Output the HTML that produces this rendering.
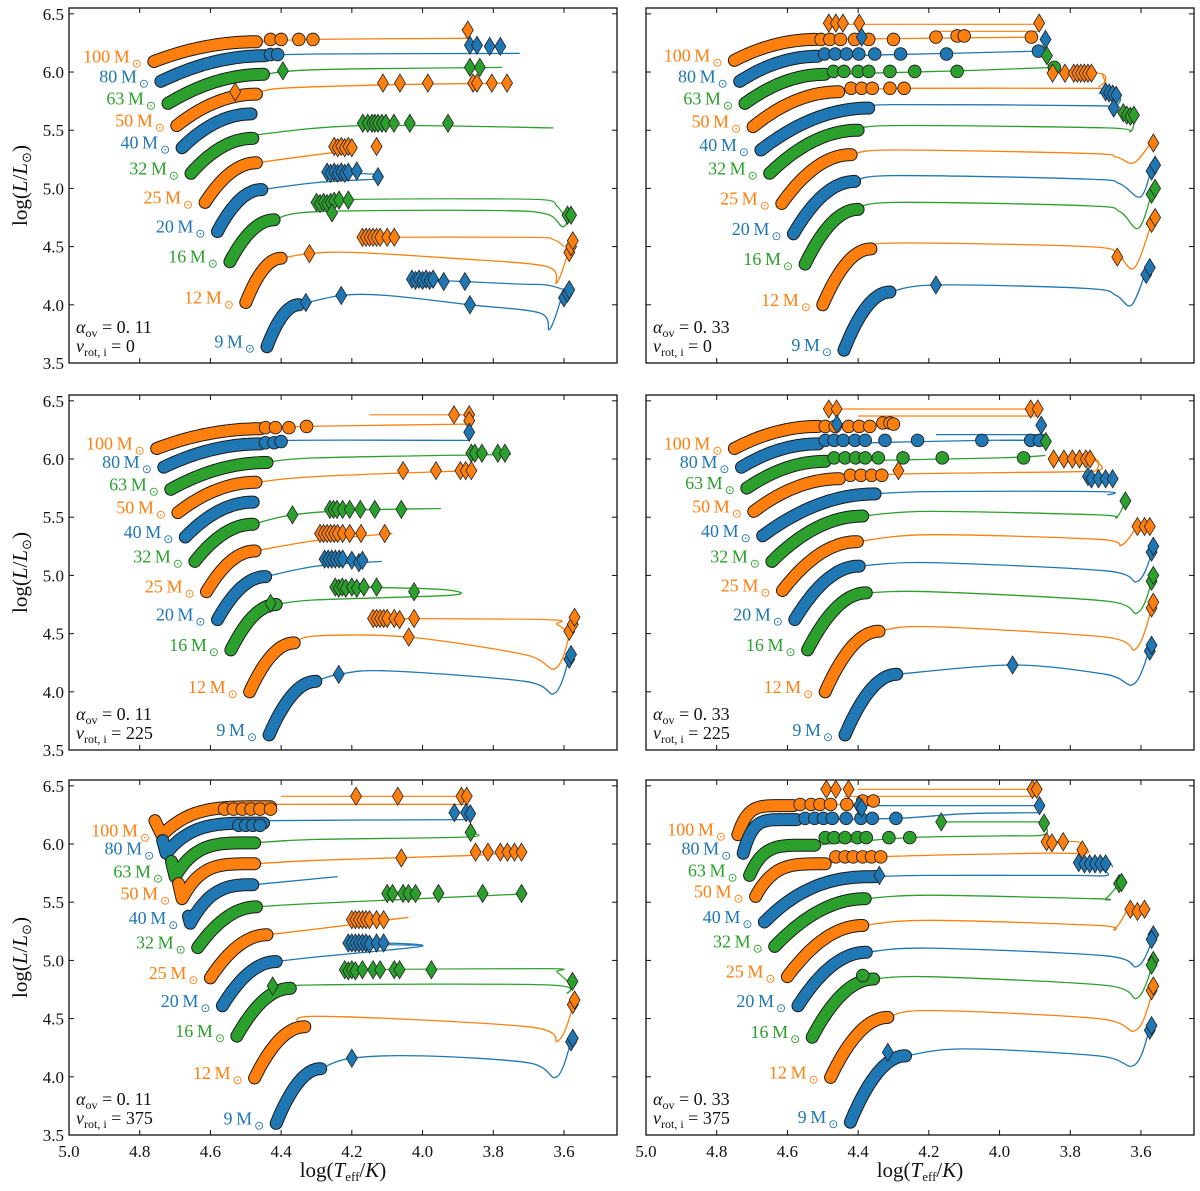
<!DOCTYPE html>
<html><head><meta charset="utf-8"><style>
html,body{margin:0;padding:0;background:#fff;}
svg{display:block;font-family:"Liberation Serif",serif;}
</style></head><body>
<svg id="fig" width="1200" height="1191" viewBox="0 0 1200 1191" xmlns="http://www.w3.org/2000/svg"></svg>
<script>
const masses=[100,80,63,50,40,32,25,20,16,12,9];
const colors=['#ff7f0e','#1f77b4','#2ca02c'];
const xTicks=[5.0,4.8,4.6,4.4,4.2,4.0,3.8,3.6];
const yTicks=[3.5,4.0,4.5,5.0,5.5,6.0,6.5];
const alphaVals=['0. 11','0. 33'];
const vrotVals=['0','225','375'];

// ---- top-left (a=0.11, v=0)
const tl_ms=[[4.76,6.09,4.47,6.26,2],[4.74,5.92,4.445,6.14,2],[4.72,5.73,4.45,5.98,2],[4.695,5.54,4.47,5.81,2],[4.68,5.35,4.485,5.64,2],[4.655,5.13,4.48,5.43,2],[4.615,4.88,4.47,5.22,2],[4.58,4.63,4.455,4.99,2],[4.545,4.37,4.42,4.73,2],[4.50,4.02,4.40,4.40,2],[4.44,3.64,4.35,4.0,2]];
const tl_post=[[[4.31,6.28],[3.875,6.29]],[[4.3,6.155],[3.725,6.16]],[[4.3,6.02],[3.775,6.04]],[[4.4,5.86],[4.1,5.89],[3.753,5.905]],[],[[4.47,5.46],[4.17,5.54],[3.63,5.52]],[[4.3,5.29],[4.186,5.33]],[[4.3,5.05],[4.126,5.08]],[[4.3,4.80],[3.8,4.81],[3.65,4.78],[3.603,4.67],[3.58,4.79]],[[4.32,4.44],[4.2,4.45],[3.92,4.40],[3.65,4.33],[3.62,4.19],[3.58,4.53]],[[4.23,4.08],[4.1,4.08],[3.866,4.0],[3.668,3.93],[3.64,3.79],[3.60,4.13]]];
const tl_branch=[[2,[[4.30,4.88],[4.2,4.905],[3.8,4.91],[3.65,4.9],[3.62,4.85],[3.6,4.77]]],[1,[[4.27,5.14],[4.12,5.12]]],[1,[[4.03,4.22],[3.74,4.18],[3.65,4.17],[3.6,4.13]]],[0,[[4.17,4.58],[3.7,4.58],[3.63,4.56],[3.6,4.5]]],[0,[[3.89,6.37],[3.86,6.37]]]];
const tl_dia=[[3.872,6.36,0],[3.866,6.23,1],[3.846,6.23,1],[3.81,6.22,1],[3.78,6.22,1],[4.395,6.01,2],[3.866,6.04,2],[3.838,6.04,2],[4.53,5.83,0],[4.112,5.905,0],[4.064,5.905,0],[3.985,5.905,0],[3.857,5.905,0],[3.846,5.905,0],[3.804,5.905,0],[3.761,5.905,0],[4.169,5.56,2],[4.155,5.56,2],[4.143,5.56,2],[4.135,5.56,2],[4.126,5.56,2],[4.115,5.56,2],[4.104,5.56,2],[4.081,5.56,2],[4.036,5.56,2],[3.928,5.56,2],[4.25,5.36,0],[4.24,5.35,0],[4.23,5.36,0],[4.22,5.35,0],[4.21,5.36,0],[4.20,5.35,0],[4.13,5.36,0],[4.27,5.14,1],[4.26,5.13,1],[4.25,5.14,1],[4.24,5.13,1],[4.23,5.14,1],[4.22,5.13,1],[4.21,5.14,1],[4.186,5.15,1],[4.126,5.1,1],[4.30,4.88,2],[4.29,4.87,2],[4.28,4.88,2],[4.27,4.87,2],[4.26,4.88,2],[4.25,4.89,2],[4.236,4.9,2],[4.21,4.9,2],[4.256,4.79,2],[3.59,4.77,2],[3.58,4.77,2],[4.17,4.58,0],[4.16,4.58,0],[4.15,4.58,0],[4.14,4.58,0],[4.13,4.58,0],[4.12,4.58,0],[4.10,4.58,0],[4.08,4.58,0],[4.32,4.44,0],[3.585,4.45,0],[3.58,4.5,0],[3.575,4.55,0],[4.03,4.22,1],[4.02,4.21,1],[4.01,4.22,1],[4.0,4.21,1],[3.99,4.22,1],[3.98,4.21,1],[3.97,4.22,1],[3.94,4.2,1],[3.88,4.2,1],[4.23,4.08,1],[3.866,4.0,1],[3.6,4.06,1],[3.59,4.1,1],[3.585,4.13,1],[4.33,4.02,1]];
const tl_circ=[[4.43,6.28,0],[4.40,6.28,0],[4.35,6.28,0],[4.31,6.28,0],[4.43,6.15,1],[4.41,6.15,1]];

// ---- top-right (a=0.33, v=0)
const tr_ms=[[4.75,6.10,4.52,6.28,2],[4.735,5.92,4.515,6.135,2],[4.72,5.73,4.495,5.98,2],[4.697,5.53,4.455,5.83,2],[4.675,5.33,4.37,5.69,2],[4.65,5.13,4.40,5.50,2],[4.616,4.87,4.42,5.29,2],[4.583,4.61,4.41,5.06,2],[4.55,4.35,4.40,4.82,2],[4.50,4.0,4.364,4.48,2],[4.44,3.61,4.31,4.11,2]];
const tr_post=[[[3.89,6.30]],[[4.15,6.16],[3.888,6.18]],[[4.12,6.01],[3.845,6.04]],[[4.27,5.86],[3.72,5.86],[3.70,5.88],[3.71,5.99]],[[4.3,5.72],[3.72,5.71],[3.677,5.69]],[[4.3,5.54],[3.70,5.52],[3.63,5.49],[3.62,5.62]],[[4.3,5.33],[3.75,5.30],[3.67,5.27],[3.62,5.22],[3.57,5.40]],[[4.3,5.11],[3.75,5.08],[3.66,5.04],[3.60,4.93],[3.565,5.24]],[[4.3,4.88],[3.75,4.85],[3.66,4.80],[3.606,4.66],[3.565,5.01]],[[4.3,4.53],[3.75,4.50],[3.667,4.43],[3.618,4.32],[3.565,4.75]],[[4.18,4.17],[3.75,4.14],[3.67,4.08],[3.626,4.0],[3.58,4.34]]];
const tr_branch=[[0,[[4.44,6.41],[3.888,6.41]]],[0,[[4.18,6.35],[3.89,6.35]]],[1,[[3.72,5.82],[3.66,5.78],[3.67,5.70]]],[0,[[3.85,5.99],[3.72,5.99],[3.70,5.93],[3.72,5.87]]]];
const tr_dia=[[4.483,6.42,0],[4.463,6.42,0],[4.443,6.42,0],[4.397,6.42,0],[3.888,6.42,0],[4.39,6.30,1],[3.87,6.28,1],[3.866,6.14,2],[3.85,5.99,0],[3.815,5.99,0],[3.79,5.99,0],[3.78,5.99,0],[3.77,5.99,0],[3.76,5.99,0],[3.75,5.99,0],[3.74,5.99,0],[3.70,5.83,1],[3.69,5.82,1],[3.68,5.81,1],[3.67,5.80,1],[3.677,5.69,1],[3.65,5.65,2],[3.64,5.63,2],[3.63,5.62,2],[3.62,5.63,2],[3.565,5.39,0],[3.57,5.15,1],[3.56,5.2,1],[3.57,4.95,2],[3.56,5.0,2],[3.667,4.41,0],[3.57,4.7,0],[3.56,4.75,0],[4.18,4.17,1],[3.585,4.26,1],[3.575,4.32,1]];
const tr_circ=[[4.505,6.28,0],[4.48,6.28,0],[4.45,6.28,0],[4.41,6.28,0],[4.37,6.28,0],[4.30,6.28,0],[4.18,6.30,0],[4.12,6.31,0],[4.10,6.31,0],[3.91,6.30,0],[4.495,6.155,1],[4.465,6.155,1],[4.433,6.155,1],[4.398,6.155,1],[4.353,6.155,1],[4.28,6.155,1],[4.15,6.155,1],[3.89,6.18,1],[4.47,6.005,2],[4.44,6.005,2],[4.40,6.005,2],[4.37,6.005,2],[4.31,6.005,2],[4.24,6.005,2],[4.12,6.005,2],[3.845,6.04,2],[4.42,5.86,0],[4.39,5.86,0],[4.36,5.86,0],[4.31,5.86,0],[4.27,5.86,0]];

// ---- middle-left (a=0.11, v=225)
const ml_ms=[[4.752,6.09,4.459,6.26,2],[4.732,5.93,4.459,6.13,2],[4.712,5.74,4.44,5.97,2],[4.692,5.54,4.471,5.80,2],[4.671,5.33,4.479,5.63,2],[4.644,5.12,4.479,5.44,2],[4.611,4.86,4.474,5.21,2],[4.58,4.62,4.444,4.99,2],[4.542,4.36,4.414,4.75,2],[4.489,4.0,4.363,4.42,2],[4.434,3.63,4.302,4.09,2]];
const ml_post=[[[4.328,6.28],[3.873,6.30]],[[4.38,6.16],[3.868,6.16]],[[4.3,6.01],[3.75,6.04]],[[4.3,5.85],[3.86,5.90]],[],[[4.368,5.52],[4.2,5.56],[3.948,5.575]],[[4.3,5.3],[4.085,5.36]],[[4.3,5.08],[4.115,5.12]],[[4.3,4.79],[3.918,4.83],[3.95,4.88],[4.2,4.9]],[[4.3,4.48],[4.039,4.47],[3.711,4.32],[3.62,4.21],[3.569,4.68]],[[4.237,4.15],[4.1,4.18],[3.711,4.09],[3.625,3.99],[3.58,4.35]]];
const ml_branch=[[0,[[4.15,6.38],[3.868,6.38]]],[0,[[4.14,4.63],[3.65,4.62],[3.62,4.58],[3.59,4.52]]]];
const ml_dia=[[3.911,6.38,0],[3.868,6.38,0],[3.868,6.33,0],[3.868,6.23,1],[3.862,6.05,2],[3.852,6.05,2],[3.832,6.05,2],[3.787,6.05,2],[3.767,6.05,2],[4.055,5.90,0],[3.962,5.90,0],[3.893,5.90,0],[3.878,5.90,0],[3.862,5.90,0],[4.368,5.52,2],[4.262,5.567,2],[4.252,5.567,2],[4.242,5.567,2],[4.226,5.567,2],[4.206,5.567,2],[4.176,5.567,2],[4.135,5.567,2],[4.06,5.567,2],[4.29,5.36,0],[4.28,5.36,0],[4.27,5.36,0],[4.26,5.36,0],[4.25,5.36,0],[4.24,5.36,0],[4.226,5.36,0],[4.206,5.36,0],[4.174,5.36,0],[4.107,5.36,0],[4.277,5.14,1],[4.267,5.14,1],[4.257,5.14,1],[4.247,5.14,1],[4.236,5.14,1],[4.226,5.14,1],[4.20,5.13,1],[4.18,5.11,1],[4.17,5.13,1],[4.247,4.9,2],[4.237,4.89,2],[4.227,4.9,2],[4.217,4.89,2],[4.2,4.9,2],[4.186,4.89,2],[4.166,4.9,2],[4.13,4.9,2],[4.024,4.86,2],[4.43,4.76,2],[4.14,4.63,0],[4.13,4.63,0],[4.12,4.63,0],[4.11,4.63,0],[4.1,4.63,0],[4.08,4.63,0],[4.065,4.62,0],[4.024,4.63,0],[4.039,4.47,0],[3.585,4.52,0],[3.575,4.58,0],[3.57,4.64,0],[4.237,4.15,1],[3.585,4.28,1],[3.58,4.32,1]];
const ml_circ=[[4.444,6.27,0],[4.416,6.27,0],[4.378,6.27,0],[4.328,6.28,0],[4.444,6.14,1],[4.42,6.14,1],[4.40,6.15,1]];

// ---- middle-right (a=0.33, v=225)
const mr_ms=[[4.75,6.09,4.513,6.28,2],[4.73,5.93,4.513,6.13,2],[4.715,5.75,4.493,5.98,2],[4.695,5.55,4.453,5.83,2],[4.67,5.34,4.352,5.70,2],[4.644,5.12,4.387,5.51,2],[4.614,4.87,4.402,5.29,2],[4.579,4.62,4.397,5.08,2],[4.543,4.36,4.377,4.85,2],[4.493,4.0,4.341,4.52,2],[4.437,3.63,4.291,4.15,2]];
const mr_post=[[[4.367,6.28],[4.30,6.30]],[[4.05,6.16],[3.887,6.16]],[[4.0,6.01],[3.87,6.03]],[[4.286,5.87],[3.80,5.89],[3.725,5.90],[3.71,5.93],[3.73,5.99]],[[4.2,5.72],[3.715,5.72],[3.695,5.69]],[[4.2,5.55],[3.72,5.52],[3.67,5.50],[3.644,5.64]],[[4.2,5.35],[3.72,5.31],[3.655,5.26],[3.609,5.44]],[[4.2,5.11],[3.70,5.04],[3.609,4.95],[3.564,5.24]],[[4.2,4.86],[3.70,4.78],[3.609,4.68],[3.564,5.0]],[[4.2,4.56],[3.70,4.47],[3.614,4.37],[3.564,4.78]],[[3.963,4.23],[3.70,4.15],[3.619,4.07],[3.569,4.43]]];
const mr_branch=[[0,[[4.45,6.43],[3.892,6.43]]],[0,[[4.40,6.37],[3.89,6.37]]],[1,[[4.18,6.21],[3.87,6.21]]],[1,[[4.0,6.16],[3.88,6.16]]],[0,[[3.85,6.0],[3.74,6.0],[3.72,5.97],[3.725,5.90]]]];
const mr_dia=[[4.483,6.43,0],[4.461,6.43,0],[3.912,6.43,0],[3.892,6.43,0],[4.46,6.30,1],[3.882,6.29,1],[3.869,6.15,2],[4.286,5.90,0],[3.847,6.0,0],[3.818,6.0,0],[3.794,6.0,0],[3.774,6.0,0],[3.756,6.0,0],[3.744,6.0,0],[3.75,5.85,1],[3.74,5.83,1],[3.72,5.83,1],[3.70,5.83,1],[3.68,5.83,1],[3.644,5.64,2],[3.61,5.42,0],[3.59,5.42,0],[3.575,5.42,0],[3.57,5.2,1],[3.565,5.25,1],[3.57,4.95,2],[3.565,5.0,2],[3.57,4.72,0],[3.565,4.77,0],[3.575,4.35,1],[3.57,4.4,1],[3.963,4.23,1]];
const mr_circ=[[4.493,6.28,0],[4.465,6.28,0],[4.427,6.28,0],[4.397,6.28,0],[4.367,6.28,0],[4.33,6.31,0],[4.31,6.31,0],[4.30,6.30,0],[4.493,6.16,1],[4.468,6.16,1],[4.442,6.16,1],[4.409,6.16,1],[4.38,6.16,1],[4.324,6.16,1],[4.232,6.16,1],[4.05,6.16,1],[3.912,6.16,1],[3.887,6.16,1],[4.468,6.01,2],[4.437,6.01,2],[4.407,6.01,2],[4.38,6.01,2],[4.343,6.01,2],[4.273,6.01,2],[4.162,6.01,2],[3.932,6.01,2],[4.422,5.86,0],[4.392,5.86,0],[4.362,5.86,0],[4.333,5.86,0]];

// ---- bottom-left (a=0.11, v=375)
const bl_ms=[[4.737,6.075,4.43,6.32,4,4.757,6.2],[4.725,5.92,4.45,6.18,4,4.735,6.03],[4.70,5.72,4.475,6.01,4,4.71,5.85],[4.68,5.53,4.475,5.83,4,4.69,5.66],[4.657,5.32,4.48,5.65,3,4.662,5.38],[4.636,5.11,4.47,5.46,2],[4.60,4.85,4.44,5.22,2],[4.566,4.61,4.414,4.99,2],[4.525,4.35,4.374,4.76,2],[4.475,3.99,4.333,4.43,2],[4.414,3.60,4.288,4.07,2]];
const bl_post=[[[4.43,6.34],[3.87,6.34]],[[4.45,6.20],[3.877,6.21]],[[4.3,6.04],[3.875,6.06],[3.864,6.10]],[[4.3,5.86],[3.88,5.90],[3.72,5.93]],[[4.24,5.72]],[[4.3,5.49],[3.72,5.57]],[[4.3,5.27],[4.04,5.37]],[[4.3,5.03],[4.005,5.12],[4.1,5.15]],[[4.3,4.79],[3.65,4.79],[3.59,4.72],[3.576,4.84]],[[4.3,4.52],[3.70,4.43],[3.616,4.31],[3.566,4.69]],[[4.20,4.16],[4.0,4.18],[3.70,4.12],[3.62,4.0],[3.576,4.35]]];
const bl_branch=[[0,[[4.40,6.41],[3.875,6.41]]],[2,[[4.21,4.92],[3.65,4.93],[3.62,4.90],[3.59,4.82]]],[1,[[4.22,5.14],[4.0,5.13]]]];
const bl_dia=[[4.188,6.41,0],[4.07,6.41,0],[3.89,6.41,0],[3.875,6.41,0],[3.91,6.27,1],[3.877,6.27,1],[3.865,6.26,1],[3.864,6.10,2],[4.06,5.88,0],[3.85,5.93,0],[3.815,5.93,0],[3.78,5.93,0],[3.76,5.93,0],[3.74,5.93,0],[3.72,5.93,0],[4.10,5.575,2],[4.085,5.575,2],[4.055,5.575,2],[4.04,5.575,2],[4.02,5.575,2],[3.955,5.575,2],[3.83,5.575,2],[3.72,5.575,2],[4.20,5.35,0],[4.19,5.35,0],[4.18,5.35,0],[4.17,5.35,0],[4.16,5.35,0],[4.15,5.35,0],[4.13,5.35,0],[4.11,5.35,0],[4.21,5.15,1],[4.2,5.15,1],[4.19,5.15,1],[4.18,5.15,1],[4.17,5.15,1],[4.16,5.15,1],[4.15,5.14,1],[4.13,5.15,1],[4.11,5.15,1],[4.22,4.92,2],[4.21,4.91,2],[4.20,4.92,2],[4.19,4.91,2],[4.17,4.92,2],[4.14,4.92,2],[4.12,4.92,2],[4.08,4.92,2],[4.065,4.92,2],[3.975,4.92,2],[4.424,4.78,2],[3.576,4.82,2],[3.575,4.62,0],[3.57,4.66,0],[3.58,4.3,1],[3.575,4.33,1],[4.20,4.16,1]];
const bl_circ=[[4.56,6.30,0],[4.535,6.30,0],[4.51,6.30,0],[4.485,6.30,0],[4.46,6.30,0],[4.43,6.30,0],[4.52,6.16,1],[4.50,6.16,1],[4.48,6.16,1],[4.46,6.16,1]];

// ---- bottom-right (a=0.33, v=375)
const br_ms=[[4.74,6.08,4.584,6.33,6],[4.725,5.92,4.574,6.21,6],[4.707,5.73,4.523,5.99,5],[4.69,5.55,4.493,5.83,4],[4.665,5.33,4.35,5.72,2.5],[4.636,5.12,4.38,5.53,2],[4.60,4.86,4.387,5.30,2],[4.57,4.61,4.377,5.07,2],[4.53,4.34,4.356,4.84,2],[4.478,3.995,4.316,4.51,2],[4.422,3.61,4.266,4.18,2]];
const br_post=[[[4.432,6.34],[4.357,6.37]],[[4.293,6.22],[4.1,6.26],[3.887,6.27]],[[4.254,6.055],[4.0,6.07],[3.874,6.08],[3.874,6.18]],[[4.336,5.89],[3.9,5.92],[3.76,5.92],[3.75,5.95]],[[4.2,5.73],[3.8,5.73],[3.695,5.73],[3.72,5.80]],[[4.2,5.56],[3.73,5.53],[3.70,5.53],[3.662,5.66]],[[4.2,5.345],[3.72,5.30],[3.675,5.27],[3.634,5.46]],[[4.2,5.106],[3.70,5.04],[3.609,4.95],[3.56,5.24]],[[4.2,4.86],[3.70,4.785],[3.609,4.68],[3.56,5.04]],[[4.2,4.57],[3.72,4.50],[3.614,4.40],[3.564,4.76]],[[4.1,4.24],[3.72,4.18],[3.619,4.10],[3.574,4.43]]];
const br_branch=[[0,[[4.44,6.41],[3.9,6.41]]],[0,[[4.40,6.47],[3.895,6.47]]],[1,[[4.397,6.33],[3.887,6.33]]],[2,[[4.165,6.19],[3.874,6.19]]],[0,[[3.867,6.02],[3.78,6.02],[3.76,5.97]]],[1,[[3.776,5.84],[3.695,5.84],[3.68,5.80]]]];
const br_dia=[[4.49,6.47,0],[4.463,6.47,0],[4.427,6.47,0],[3.907,6.47,0],[3.895,6.47,0],[4.397,6.33,1],[4.39,6.31,1],[3.887,6.33,1],[4.165,6.19,2],[3.874,6.18,2],[3.867,6.02,0],[3.852,6.01,0],[3.82,6.02,0],[3.766,5.95,0],[3.776,5.84,1],[3.76,5.83,1],[3.745,5.83,1],[3.73,5.83,1],[3.715,5.83,1],[3.70,5.83,1],[4.34,5.73,1],[3.662,5.66,2],[3.655,5.67,2],[3.63,5.44,0],[3.61,5.42,0],[3.59,5.44,0],[3.565,5.22,1],[3.57,5.18,1],[3.565,5.0,2],[3.57,4.96,2],[3.57,4.74,0],[3.565,4.78,0],[3.575,4.40,1],[3.57,4.44,1],[4.316,4.21,1]];
const br_circ=[[4.564,6.34,0],[4.533,6.34,0],[4.508,6.34,0],[4.478,6.34,0],[4.432,6.34,0],[4.387,6.37,0],[4.357,6.37,0],[4.55,6.22,1],[4.523,6.22,1],[4.498,6.22,1],[4.473,6.22,1],[4.434,6.22,1],[4.392,6.22,1],[4.36,6.22,1],[4.293,6.22,1],[4.493,6.055,2],[4.468,6.055,2],[4.437,6.055,2],[4.402,6.055,2],[4.377,6.055,2],[4.313,6.055,2],[4.254,6.055,2],[4.463,5.89,0],[4.437,5.89,0],[4.414,5.89,0],[4.387,5.89,0],[4.362,5.89,0],[4.336,5.89,0],[4.387,4.87,2]];

const panels=[
 {name:'panel-a011-v0',col:0,row:0,ms:tl_ms,post:tl_post,br:tl_branch,dia:tl_dia,circ:tl_circ},
 {name:'panel-a033-v0',col:1,row:0,ms:tr_ms,post:tr_post,br:tr_branch,dia:tr_dia,circ:tr_circ},
 {name:'panel-a011-v225',col:0,row:1,ms:ml_ms,post:ml_post,br:ml_branch,dia:ml_dia,circ:ml_circ},
 {name:'panel-a033-v225',col:1,row:1,ms:mr_ms,post:mr_post,br:mr_branch,dia:mr_dia,circ:mr_circ},
 {name:'panel-a011-v375',col:0,row:2,ms:bl_ms,post:bl_post,br:bl_branch,dia:bl_dia,circ:bl_circ},
 {name:'panel-a033-v375',col:1,row:2,ms:br_ms,post:br_post,br:br_branch,dia:br_dia,circ:br_circ}
];

const NS='http://www.w3.org/2000/svg';
const svg=document.getElementById('fig');
const X0=[69,646], Y0=[8,395,780], W=548, H=355;
const XMIN=5.0,XMAX=3.45,YMIN=3.5,YMAX=6.55;
function mk(tag,attrs,parent){const e=document.createElementNS(NS,tag);for(const k in attrs)e.setAttribute(k,attrs[k]);(parent||svg).appendChild(e);return e;}
function smooth(P){
  if(P.length<3)return 'M'+P.map(p=>p[0].toFixed(1)+','+p[1].toFixed(1)).join(' L');
  let d='M'+P[0][0].toFixed(1)+','+P[0][1].toFixed(1);
  for(let i=0;i<P.length-1;i++){
    const p0=P[Math.max(0,i-1)],p1=P[i],p2=P[i+1],p3=P[Math.min(P.length-1,i+2)];
    const c1=[p1[0]+(p2[0]-p0[0])/6,p1[1]+(p2[1]-p0[1])/6];
    const c2=[p2[0]-(p3[0]-p1[0])/6,p2[1]-(p3[1]-p1[1])/6];
    d+=` C${c1[0].toFixed(1)},${c1[1].toFixed(1)} ${c2[0].toFixed(1)},${c2[1].toFixed(1)} ${p2[0].toFixed(1)},${p2[1].toFixed(1)}`;
  }
  return d;
}

panels.forEach(p=>{
  const x0=X0[p.col], y0=Y0[p.row];
  const sx=t=>x0+(XMIN-t)/(XMIN-XMAX)*W;
  const sy=l=>y0+(YMAX-l)/(YMAX-YMIN)*H;
  const g=mk('g',{});
  
  
  const clipId='clip'+p.col+p.row;
  const cp=mk('clipPath',{id:clipId},g);
  mk('rect',{x:x0,y:y0,width:W,height:H},cp);
  const plot=mk('g',{'clip-path':'url(#'+clipId+')'},g);
  const toPx=a=>a.map(q=>[sx(q[0]),sy(q[1])]);
  const pts2d=a=>a.map(q=>sx(q[0]).toFixed(1)+','+sy(q[1]).toFixed(1)).join(' ');
  p.br.forEach(b=>{
    const pl=mk('path',{d:smooth(toPx(b[1])),fill:'none',stroke:colors[b[0]],'stroke-width':1.2,'stroke-linejoin':'round'},plot);
    
    
  });
  p.ms.forEach((m,i)=>{
    const pts=[[m[2],m[3]]].concat(p.post[i]);
    if(pts.length<2)return;
    const pl=mk('path',{d:smooth(toPx(pts)),fill:'none',stroke:colors[i%3],'stroke-width':1.3,'stroke-linejoin':'round'},plot);
    
    
  });
  p.ms.forEach((m,i)=>{
    const pts=[];
    if(m.length>5)pts.push([m[5],m[6]]);
    const pw=m[4];
    for(let k=0;k<=30;k++){const t=k/30;pts.push([m[0]+(m[2]-m[0])*t,m[1]+(m[3]-m[1])*(1-Math.pow(1-t,pw))]);}
    const s=pts2d(pts);
    const o=mk('polyline',{points:s,fill:'none',stroke:'#1a1a1a','stroke-width':13,'stroke-linecap':'round','stroke-linejoin':'round'},plot);
    
    
    const c=mk('polyline',{points:s,fill:'none',stroke:colors[i%3],'stroke-width':11,'stroke-linecap':'round','stroke-linejoin':'round'},plot);
    
    
  });
  p.circ.forEach(q=>{
    const c=mk('circle',{cx:sx(q[0]),cy:sy(q[1]),r:6.3,fill:colors[q[2]],stroke:'#222','stroke-width':0.9},plot);
    
    
  });
  p.dia.forEach(q=>{
    const x=sx(q[0]),y=sy(q[1]);
    const d=mk('path',{d:`M${x},${y-9}L${x+5.5},${y}L${x},${y+9}L${x-5.5},${y}Z`,fill:colors[q[2]],stroke:'#222','stroke-width':0.8},plot);
    
    
  });
  p.ms.forEach((m,i)=>{
    const t=mk('text',{x:sx(m[0])-12,y:sy(m[1])+1,'text-anchor':'end','font-size':18,fill:colors[i%3]},g);
    
    
    t.textContent=masses[i]+'\u2009M';
    const s=mk('tspan',{'font-size':12,dy:5,dx:2},t);s.textContent='\u2299';
  });
  const fr=mk('rect',{x:x0,y:y0,width:W,height:H,fill:'none',stroke:'#111','stroke-width':1.3},g);
  
  
  xTicks.forEach(v=>{
    const x=sx(v);
    mk('line',{x1:x,x2:x,y1:y0+H,y2:y0+H-5,stroke:'#111','stroke-width':1},g);
    mk('line',{x1:x,x2:x,y1:y0,y2:y0+5,stroke:'#111','stroke-width':1},g);
    if(p.row===2){
      const t=mk('text',{x:x,y:y0+H+22,'text-anchor':'middle','font-size':17,fill:'#111'},g);
      
      
      t.textContent=v.toFixed(1);
    }
  });
  yTicks.forEach(v=>{
    const y=sy(v);
    mk('line',{x1:x0,x2:x0+5,y1:y,y2:y,stroke:'#111','stroke-width':1},g);
    mk('line',{x1:x0+W,x2:x0+W-5,y1:y,y2:y,stroke:'#111','stroke-width':1},g);
    if(p.col===0){
      const t=mk('text',{x:x0-5,y:y+6,'text-anchor':'end','font-size':17,fill:'#111'},g);
      
      
      t.textContent=v.toFixed(1);
    }
  });
  const a=mk('text',{x:x0+7,y:y0+325,'font-size':18,fill:'#111'},g);
  
  
  const a1=mk('tspan',{'font-style':'italic'},a);a1.textContent='\u03b1';
  const a2=mk('tspan',{'font-size':12,dy:4},a);a2.textContent='ov';
  const a3=mk('tspan',{dy:-4},a);a3.textContent=' = '+alphaVals[p.col];
  const v=mk('text',{x:x0+7,y:y0+344,'font-size':18,fill:'#111'},g);
  
  
  const v1=mk('tspan',{'font-style':'italic'},v);v1.textContent='v';
  const v2=mk('tspan',{'font-size':12,dy:4},v);v2.textContent='rot, i';
  const v3=mk('tspan',{dy:-4},v);v3.textContent=' = '+vrotVals[p.row];
  if(p.col===0){
    const cy=y0+H/2;
    const t=mk('text',{x:0,y:0,'text-anchor':'middle','font-size':21,fill:'#111',transform:`translate(27,${cy}) rotate(-90)`},g);
    
    
    const s1=mk('tspan',{},t);s1.textContent='log(';
    const s2=mk('tspan',{'font-style':'italic'},t);s2.textContent='L';
    const s3=mk('tspan',{},t);s3.textContent='/';
    const s4=mk('tspan',{'font-style':'italic'},t);s4.textContent='L';
    const s5=mk('tspan',{'font-size':13,dy:4},t);s5.textContent='\u2299';
    const s6=mk('tspan',{dy:-4},t);s6.textContent=')';
  }
  if(p.row===2){
    const t=mk('text',{x:x0+W/2,y:1177,'text-anchor':'middle','font-size':21,fill:'#111'},g);
    
    
    const s1=mk('tspan',{},t);s1.textContent='log(';
    const s2=mk('tspan',{'font-style':'italic'},t);s2.textContent='T';
    const s3=mk('tspan',{'font-size':13,dy:4},t);s3.textContent='eff';
    const s4=mk('tspan',{dy:-4},t);s4.textContent='/';
    const s5=mk('tspan',{'font-style':'italic'},t);s5.textContent='K';
    const s6=mk('tspan',{},t);s6.textContent=')';
  }
});
</script>
</body></html>
